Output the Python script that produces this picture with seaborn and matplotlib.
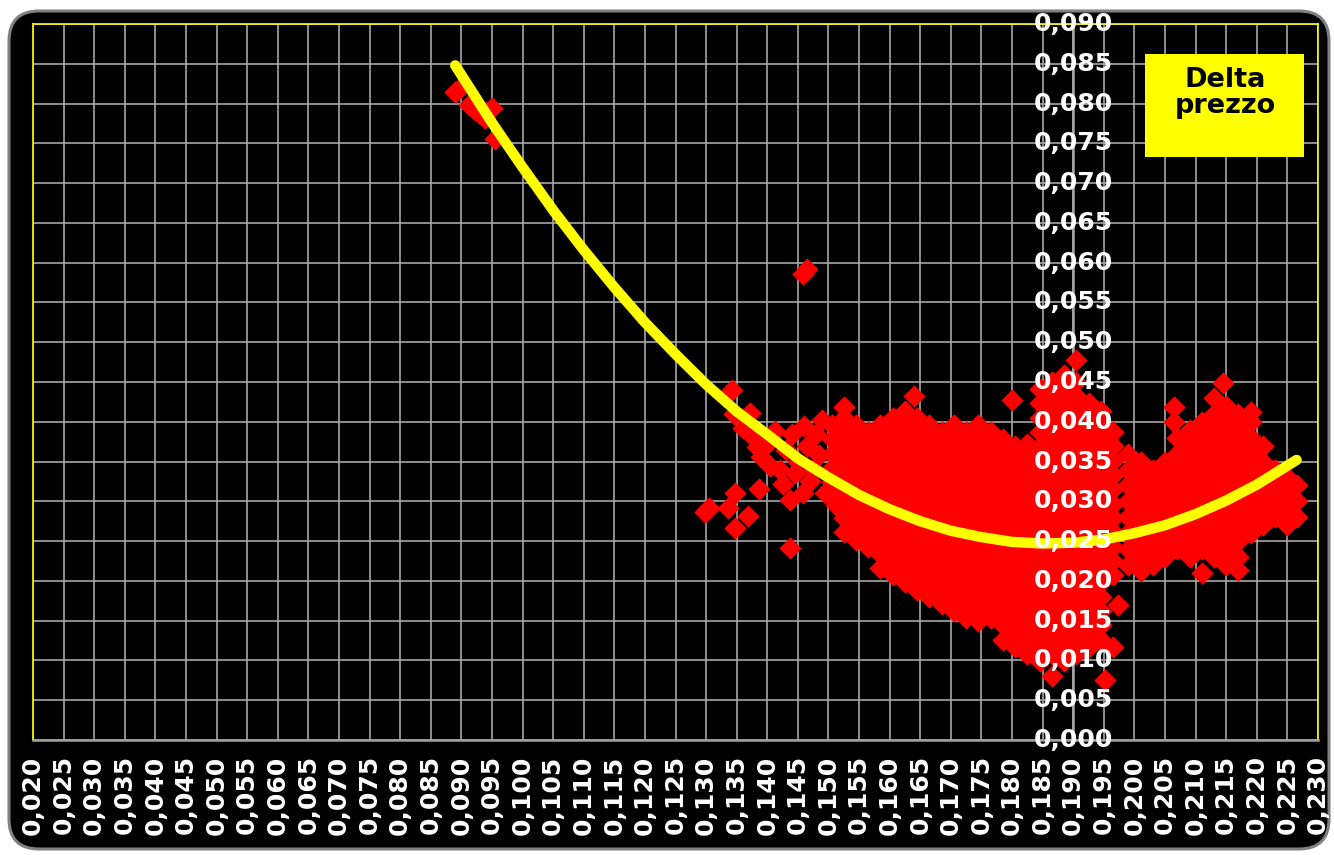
import matplotlib
matplotlib.use("Agg")
import matplotlib.pyplot as plt
import seaborn as sns
import pandas as pd
from matplotlib.patches import FancyBboxPatch, Rectangle
from matplotlib.transforms import IdentityTransform
from matplotlib.ticker import FuncFormatter

# --- data -----------------------------------------------------------------
# early points, top left
left_pts = [(0.0890, 0.0815), (0.0897, 0.0818), (0.0912, 0.0798), (0.0922, 0.0792),
            (0.0932, 0.0786), (0.0938, 0.0782), (0.0942, 0.0790), (0.0950, 0.0794),
            (0.0955, 0.0755)]

# two outliers around 0,059
outlier_pts = [(0.1458, 0.0586), (0.1465, 0.0592)]

# loose points around the main cloud
loose_pts = [(0.1298, 0.0287), (0.1305, 0.0292), (0.1336, 0.0292), (0.1347, 0.0310),
             (0.1347, 0.0266), (0.1368, 0.0282), (0.1386, 0.0315), (0.1437, 0.0241),
             (0.1512, 0.0295), (0.1973, 0.0170), (0.1952, 0.0075)]

# points running along the trend line into the cloud
tail_pts = [(0.1342, 0.0440), (0.1345, 0.0410), (0.1360, 0.0392), (0.1372, 0.0411),
            (0.1378, 0.0380), (0.1383, 0.0368), (0.1390, 0.0356), (0.1400, 0.0372),
            (0.1405, 0.0345), (0.1412, 0.0388), (0.1420, 0.0340), (0.1425, 0.0322),
            (0.1430, 0.0365), (0.1437, 0.0302), (0.1440, 0.0385), (0.1445, 0.0335),
            (0.1450, 0.0350), (0.1458, 0.0310), (0.1460, 0.0395), (0.1465, 0.0370),
            (0.1470, 0.0325), (0.1475, 0.0340), (0.1480, 0.0385), (0.1485, 0.0358),
            (0.1490, 0.0402), (0.1495, 0.0310)]

# main cloud, one x per column and the y values seen in that column
cloud_x = [0.1505, 0.1525, 0.1545, 0.1565, 0.1585, 0.1605, 0.1625, 0.1640, 0.1645,
           0.1665, 0.1685, 0.1705, 0.1725, 0.1745, 0.1765, 0.1785, 0.1800, 0.1805,
           0.1825, 0.1845, 0.1865, 0.1885, 0.1905, 0.1925, 0.1945, 0.1965]
cloud_y = [
    [0.0306, 0.0324, 0.0342, 0.0360, 0.0378, 0.0396],
    [0.0261, 0.0279, 0.0297, 0.0315, 0.0333, 0.0351, 0.0369, 0.0387, 0.0405, 0.0418],
    [0.0252, 0.0270, 0.0288, 0.0306, 0.0324, 0.0342, 0.0360, 0.0378, 0.0396],
    [0.0243, 0.0261, 0.0279, 0.0297, 0.0315, 0.0333, 0.0351, 0.0369, 0.0387],
    [0.0216, 0.0234, 0.0252, 0.0270, 0.0288, 0.0306, 0.0324, 0.0342, 0.0360, 0.0378, 0.0396],
    [0.0207, 0.0225, 0.0243, 0.0261, 0.0279, 0.0297, 0.0315, 0.0333, 0.0351, 0.0369, 0.0387,
     0.0405],
    [0.0198, 0.0216, 0.0234, 0.0252, 0.0270, 0.0288, 0.0306, 0.0324, 0.0342, 0.0360, 0.0378,
     0.0396, 0.0414],
    [0.0432],
    [0.0189, 0.0207, 0.0225, 0.0243, 0.0261, 0.0279, 0.0297, 0.0315, 0.0333, 0.0351, 0.0369,
     0.0387, 0.0405],
    [0.0180, 0.0198, 0.0216, 0.0234, 0.0252, 0.0270, 0.0288, 0.0306, 0.0324, 0.0342, 0.0360,
     0.0378, 0.0396],
    [0.0171, 0.0189, 0.0207, 0.0225, 0.0243, 0.0261, 0.0279, 0.0297, 0.0315, 0.0333, 0.0351,
     0.0369, 0.0387],
    [0.0162, 0.0180, 0.0198, 0.0216, 0.0234, 0.0252, 0.0270, 0.0288, 0.0306, 0.0324, 0.0342,
     0.0360, 0.0378, 0.0396],
    [0.0153, 0.0171, 0.0189, 0.0207, 0.0225, 0.0243, 0.0261, 0.0279, 0.0297, 0.0315, 0.0333,
     0.0351, 0.0369, 0.0387],
    [0.0150, 0.0162, 0.0180, 0.0198, 0.0216, 0.0234, 0.0252, 0.0270, 0.0288, 0.0306, 0.0324,
     0.0342, 0.0360, 0.0378, 0.0396],
    [0.0153, 0.0171, 0.0189, 0.0207, 0.0225, 0.0243, 0.0261, 0.0279, 0.0297, 0.0315, 0.0333,
     0.0351, 0.0369, 0.0387],
    [0.0126, 0.0144, 0.0162, 0.0180, 0.0198, 0.0216, 0.0234, 0.0252, 0.0270, 0.0288, 0.0306,
     0.0324, 0.0342, 0.0360, 0.0378],
    [0.0427],
    [0.0117, 0.0135, 0.0153, 0.0171, 0.0189, 0.0207, 0.0225, 0.0243, 0.0261, 0.0279, 0.0297,
     0.0315, 0.0333, 0.0351, 0.0369],
    [0.0108, 0.0126, 0.0144, 0.0162, 0.0180, 0.0198, 0.0216, 0.0234, 0.0252, 0.0270, 0.0288,
     0.0306, 0.0324, 0.0342, 0.0360, 0.0372],
    [0.0099, 0.0117, 0.0135, 0.0153, 0.0171, 0.0189, 0.0207, 0.0225, 0.0243, 0.0261, 0.0279,
     0.0297, 0.0315, 0.0333, 0.0351, 0.0369, 0.0387, 0.0405, 0.0423, 0.0441],
    [0.0080, 0.0108, 0.0126, 0.0144, 0.0162, 0.0180, 0.0198, 0.0216, 0.0234, 0.0252, 0.0270,
     0.0288, 0.0306, 0.0324, 0.0342, 0.0360, 0.0378, 0.0396, 0.0414, 0.0432, 0.0450],
    [0.0099, 0.0117, 0.0135, 0.0153, 0.0171, 0.0189, 0.0207, 0.0225, 0.0243, 0.0261, 0.0279,
     0.0297, 0.0315, 0.0333, 0.0351, 0.0369, 0.0387, 0.0405, 0.0423, 0.0441, 0.0459],
    [0.0108, 0.0126, 0.0144, 0.0162, 0.0180, 0.0198, 0.0216, 0.0234, 0.0252, 0.0270, 0.0288,
     0.0306, 0.0324, 0.0342, 0.0360, 0.0378, 0.0396, 0.0414, 0.0432, 0.0450, 0.0478],
    [0.0117, 0.0135, 0.0153, 0.0171, 0.0189, 0.0207, 0.0225, 0.0243, 0.0261, 0.0279, 0.0297,
     0.0315, 0.0333, 0.0351, 0.0369, 0.0387, 0.0405, 0.0423],
    [0.0126, 0.0144, 0.0162, 0.0180, 0.0198, 0.0216, 0.0234, 0.0252, 0.0270, 0.0288, 0.0306,
     0.0324, 0.0342, 0.0360, 0.0378, 0.0396, 0.0414],
    [0.0117, 0.0207, 0.0225, 0.0243, 0.0261, 0.0279, 0.0297, 0.0315, 0.0333, 0.0351, 0.0369,
     0.0387],
]

# right-hand cloud, same layout
right_x = [0.1990, 0.2010, 0.2030, 0.2050, 0.2065, 0.2070, 0.2090, 0.2110, 0.2130,
           0.2145, 0.2150, 0.2170, 0.2190, 0.2210, 0.2230, 0.2250, 0.2265]
right_y = [
    [0.0220, 0.0240, 0.0260, 0.0280, 0.0300, 0.0320, 0.0340, 0.0360],
    [0.0212, 0.0230, 0.0250, 0.0270, 0.0290, 0.0310, 0.0330, 0.0350],
    [0.0220, 0.0240, 0.0260, 0.0280, 0.0300, 0.0320, 0.0340],
    [0.0230, 0.0250, 0.0270, 0.0290, 0.0310, 0.0330, 0.0350],
    [0.0419, 0.0400],
    [0.0240, 0.0260, 0.0280, 0.0300, 0.0320, 0.0340, 0.0360, 0.0380],
    [0.0230, 0.0250, 0.0270, 0.0290, 0.0310, 0.0330, 0.0350, 0.0370, 0.0390],
    [0.0210, 0.0240, 0.0260, 0.0280, 0.0300, 0.0320, 0.0340, 0.0360, 0.0380, 0.0400],
    [0.0230, 0.0250, 0.0270, 0.0290, 0.0310, 0.0330, 0.0350, 0.0370, 0.0390, 0.0410, 0.0430],
    [0.0449],
    [0.0220, 0.0240, 0.0260, 0.0280, 0.0300, 0.0320, 0.0340, 0.0360, 0.0380, 0.0400, 0.0420],
    [0.0214, 0.0230, 0.0250, 0.0270, 0.0290, 0.0310, 0.0330, 0.0350, 0.0370, 0.0390, 0.0410],
    [0.0260, 0.0280, 0.0300, 0.0320, 0.0340, 0.0360, 0.0380, 0.0400, 0.0412],
    [0.0270, 0.0290, 0.0310, 0.0330, 0.0350, 0.0370],
    [0.0280, 0.0300, 0.0320, 0.0340],
    [0.0270, 0.0290, 0.0310, 0.0330],
    [0.0280, 0.0300, 0.0320],
]

# polynomial trend line
trend_x = [0.089, 0.095, 0.100, 0.105, 0.110, 0.115, 0.120, 0.125, 0.130, 0.135, 0.140,
           0.145, 0.150, 0.155, 0.160, 0.165, 0.170, 0.175, 0.180, 0.185, 0.190, 0.195,
           0.200, 0.205, 0.210, 0.215, 0.220, 0.2265]
trend_y = [0.0848, 0.0776, 0.0720, 0.0666, 0.0616, 0.0569, 0.0525, 0.0485, 0.0447, 0.0413,
           0.0384, 0.0354, 0.0330, 0.0308, 0.0290, 0.0275, 0.0263, 0.0255, 0.0249, 0.0247,
           0.0248, 0.0252, 0.0260, 0.0270, 0.0284, 0.0301, 0.0321, 0.0352]

x_ticks = [0.020 + 0.005 * i for i in range(43)]
y_ticks = [0.005 * i for i in range(19)]

# --- build the point table ---------------------------------------------------
rows = left_pts + outlier_pts + loose_pts + tail_pts
for cx, ys in zip(cloud_x, cloud_y):
    rows += [(cx, y) for y in ys]
for cx, ys in zip(right_x, right_y):
    rows += [(cx, y) for y in ys]
df = pd.DataFrame(rows, columns=["x", "delta"])

sns.set_theme(style="dark")
plt.rcParams["font.family"] = ["DejaVu Sans"]

fig = plt.figure(figsize=(13.34, 8.55), dpi=100, facecolor="white")
ax = fig.add_axes([33 / 1334, 115 / 855, 1285 / 1334, 716 / 855])
ax.set_facecolor("black")

# rounded black frame behind everything
frame = FancyBboxPatch((9, 6), 1320, 838, boxstyle="round,pad=0,rounding_size=30",
                       facecolor="black", edgecolor="#808080", linewidth=2.2,
                       transform=IdentityTransform(), zorder=-5)
fig.patches.append(frame)

sns.scatterplot(data=df, x="x", y="delta", ax=ax, marker="D", s=112, color="#ff0000",
                edgecolor="#ff0000", linewidth=0.8, zorder=3, legend=False)
sns.lineplot(x=trend_x, y=trend_y, ax=ax, color="#ffff00", linewidth=7.5, sort=False,
             zorder=4)
ax.lines[-1].set_solid_capstyle("round")

ax.set_xlim(0.020, 0.230)
ax.set_ylim(0.0, 0.090)
ax.set_xticks(x_ticks)
ax.set_yticks(y_ticks)
ax.xaxis.set_major_formatter(FuncFormatter(lambda v, p: f"{v:.3f}".replace(".", ",")))
ax.tick_params(axis="x", colors="#a0a0a0", length=5, width=1.2, pad=6,
               labelcolor="white", labelsize=18, labelrotation=90)
ax.tick_params(axis="y", left=False, labelleft=False)
for lab in ax.get_xticklabels():
    lab.set_fontweight("bold")
ax.grid(True, color="#a6a6a6", linewidth=1.2)
ax.set_axisbelow(True)
ax.set_xlabel("")
ax.set_ylabel("")

for side in ["top", "left", "right"]:
    ax.spines[side].set_visible(True)
    ax.spines[side].set_color("#ffff00")
    ax.spines[side].set_linewidth(1.2)
ax.spines["bottom"].set_visible(True)
ax.spines["bottom"].set_color("#a0a0a0")
ax.spines["bottom"].set_linewidth(1.8)

# value axis crosses at 0,190
ax.axvline(0.190, color="#a6a6a6", linewidth=1.8, zorder=1)
for yv in y_ticks:
    ax.text(0.190, yv, f"{yv:.3f}".replace(".", ","), color="white", fontsize=18,
            fontweight="bold", ha="center", va="center", zorder=6)

# legend box
fig.patches.append(Rectangle((1145 / 1334, 698 / 855), 159 / 1334, 103 / 855,
                             transform=fig.transFigure, facecolor="#ffff00",
                             edgecolor="none", zorder=5))
fig.text(1225 / 1334, 762 / 855, "Delta\nprezzo", color="black", fontsize=19.5,
         fontweight="bold", ha="center", va="center", linespacing=1.0, zorder=6)

fig.savefig("out.png", dpi=100, facecolor="white")
